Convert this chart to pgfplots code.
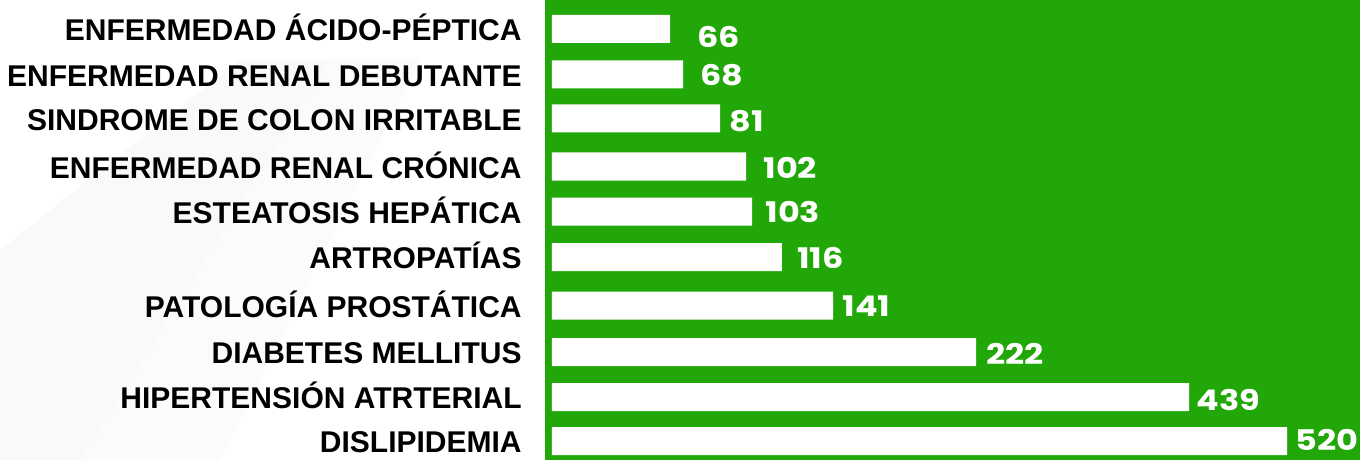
\documentclass[border=0pt]{standalone}
\usepackage{pgfplots}
\pgfplotsset{compat=1.18}
\usepackage{pgfplotstable}
\usepackage{fontspec}
\setmainfont{Liberation Sans}
\newfontfamily\valfont[FakeStretch=1.18]{Poppins}
\definecolor{bggreen}{RGB}{33,168,8}

% y = vertical centre of each bar (pixels from top); len = drawn bar length; val = labelled value
\pgfplotstableread[col sep=comma]{
y,len,val,dx,dy,name
29,83.5,66,13.5,-4,ENFERMEDAD ÁCIDO-PÉPTICA
74.5,92.7,68,8.5,-0.3,ENFERMEDAD RENAL DEBUTANTE
118.5,118.9,81,4.5,-1.2,SINDROME DE COLON IRRITABLE
166.5,137.3,102,8.5,-0.5,ENFERMEDAD RENAL CRÓNICA
211.5,141.5,103,6.5,-0.3,ESTEATOSIS HEPÁTICA
257,162.7,116,7.5,-0.5,ARTROPATÍAS
305.5,198.8,141,4.5,-0.5,PATOLOGÍA PROSTÁTICA
352,300.0,222,5,-1,DIABETES MELLITUS
397,450.7,439,3.5,-1.5,HIPERTENSIÓN ATRTERIAL
441,520.0,520,4,0.5,DISLIPIDEMIA
}\datatable

\begin{document}
\begin{tikzpicture}
\path[use as bounding box] (0,0) rectangle (680pt,230pt);
\begin{scope}[x=0.5pt,y=-0.5pt,shift={(0,230pt)}]
  \fill[black!2.5] (0,460) -- (0,250) -- (240,60) -- (330,60) -- (80,460) -- cycle;
  \fill[black!1.5] (80,460) -- (330,60) -- (420,60) -- (220,460) -- cycle;
\end{scope}
\begin{axis}[
  at={(272.5pt,0pt)}, anchor=south west,
  scale only axis, width=407.5pt, height=230pt,
  xmin=-4.95, xmax=571.6,
  ymin=0, ymax=460, y dir=reverse,
  xbar, bar width=14pt, bar shift=0pt,
  axis background/.style={fill=bggreen},
  axis line style={draw=none},
  major tick length=0pt,
  xtick=\empty,
  ytick=data,
  yticklabels from table={\datatable}{name},
  yticklabel style={font=\bfseries\fontsize{15}{16}\selectfont, text=black,
    inner sep=0pt, xshift=-11.5pt, yshift=-0.5pt, text height=10.7pt, text depth=0pt},
  point meta=explicit symbolic,
  nodes near coords={\pgfplotspointmeta},
  visualization depends on={\thisrow{dx} \as \dx},
  visualization depends on={\thisrow{dy} \as \dy},
  every node near coord/.append style={anchor=west, inner sep=0pt,
    xshift=\dx pt, yshift=\dy pt, text=white,
    font=\valfont\bfseries\fontsize{14.2}{15}\selectfont},
  clip=false,
]
\addplot[fill=white, draw=none] table[x=len, y=y, meta=val] {\datatable};
\end{axis}
\end{tikzpicture}
\end{document}
